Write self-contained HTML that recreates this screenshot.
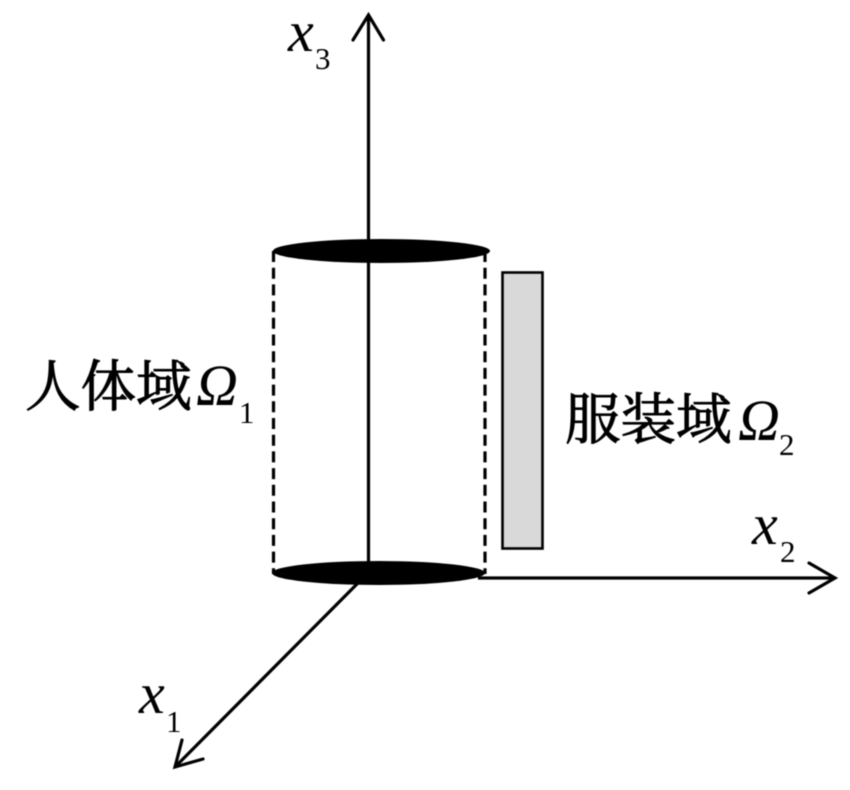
<!DOCTYPE html>
<html>
<head>
<meta charset="utf-8">
<style>
html,body{margin:0;padding:0;background:#fff;width:850px;height:790px;overflow:hidden}
svg{display:block;filter:blur(.4px)}
</style>
</head>
<body>
<svg width="850" height="790" viewBox="0 0 850 790" xmlns="http://www.w3.org/2000/svg">
<rect width="850" height="790" fill="#fff"/>
<!-- clothing rectangle -->
<rect x="502.500" y="272.500" width="40" height="276" fill="#d9d9d9" stroke="#000" stroke-width="2.600"/>
<!-- dashed sides -->
<line x1="273.500" y1="251" x2="273.500" y2="574" stroke="#000" stroke-width="3.200" stroke-dasharray="11 5.700"/>
<line x1="485" y1="251" x2="485" y2="574" stroke="#000" stroke-width="3.200" stroke-dasharray="11 5.700"/>
<!-- ellipses -->
<ellipse cx="381.500" cy="251" rx="108.500" ry="12" fill="#000"/>
<ellipse cx="378.500" cy="573" rx="106.500" ry="12" fill="#000"/>
<!-- axes -->
<line x1="368.500" y1="15" x2="368.500" y2="575" stroke="#000" stroke-width="3.200"/>
<polyline points="353,40 368.500,15 383.500,40" fill="none" stroke="#000" stroke-width="3.200" stroke-linecap="round"/>
<line x1="478" y1="578" x2="835" y2="578" stroke="#000" stroke-width="3.200"/>
<polyline points="809,563 835,578 809,593" fill="none" stroke="#000" stroke-width="3.200" stroke-linecap="round"/>
<line x1="358" y1="583" x2="175" y2="767" stroke="#000" stroke-width="3.200"/>
<polyline points="182,740 175,767 203,759" fill="none" stroke="#000" stroke-width="3.200" stroke-linecap="round"/>
<!-- axis labels -->
<g font-family="'Liberation Serif',serif" fill="#000">
<text x="288" y="51" font-size="58" font-style="italic">x</text>
<text x="315" y="69" font-size="31">3</text>
<text x="752" y="544" font-size="58" font-style="italic">x</text>
<text x="780" y="562" font-size="31">2</text>
<text x="139" y="713" font-size="58" font-style="italic">x</text>
<text x="166" y="732" font-size="31">1</text>
</g>
<!-- region labels -->
<text x="25" y="406" font-size="55.500" font-family="'Liberation Serif','Noto Serif CJK SC',serif" fill="#000" stroke="#000" stroke-width="1">人体域</text>
<text x="196" y="405" font-size="58" font-style="italic" font-family="'Liberation Serif',serif" fill="#000">Ω</text>
<text x="239" y="423" font-size="31" font-family="'Liberation Serif',serif" fill="#000">1</text>
<text x="565" y="439" font-size="55.500" font-family="'Liberation Serif','Noto Serif CJK SC',serif" fill="#000" stroke="#000" stroke-width="1">服装域</text>
<text x="738" y="440" font-size="58" font-style="italic" font-family="'Liberation Serif',serif" fill="#000">Ω</text>
<text x="779" y="455" font-size="31" font-family="'Liberation Serif',serif" fill="#000">2</text>
</svg>
</body>
</html>
